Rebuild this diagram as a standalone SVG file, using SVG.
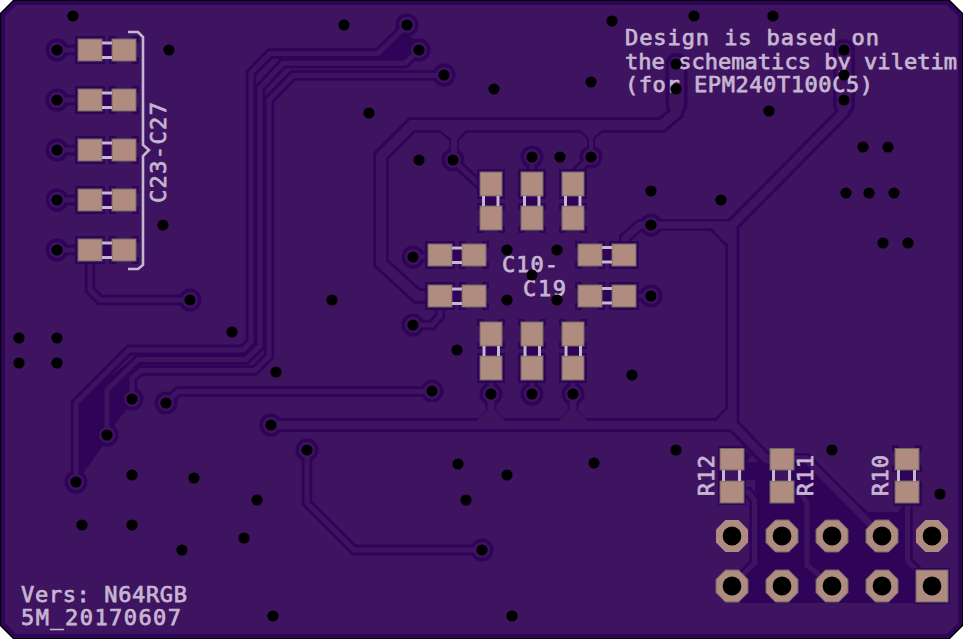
<svg xmlns="http://www.w3.org/2000/svg" width="963" height="639" viewBox="0 0 963 639">
<style>
.d{fill:#2f0358}.l{fill:#3e1360}
.td,.tl{fill:none;stroke-linejoin:miter;stroke-miterlimit:4}
.td{stroke:#2f0358}.tl{stroke:#3e1360}
.w5.td{stroke-width:10.5}.w5.tl{stroke-width:5}
.w7.td{stroke-width:12}.w7.tl{stroke-width:7}
.w9.td{stroke-width:14}.w9.tl{stroke-width:8.5}
.w10.td{stroke-width:15.5}.w10.tl{stroke-width:10}
.w15.td{stroke-width:22;stroke-linecap:round}.w15.tl{stroke-width:15;stroke-linecap:round}
.pad{fill:#b08c80;stroke:#6b6a64;stroke-width:1}
.pin{fill:#b08c80}.pg{stroke:#6b6a64;stroke-width:1}
.s{fill:#c6b6d2}
.b{fill:none;stroke:#c6b6d2;stroke-width:2.6}
text{font-family:"DejaVu Sans Mono","Liberation Mono",monospace;font-size:22px;fill:#c6b6d2;stroke:#c6b6d2;stroke-width:.75}
</style>
<defs>
<circle id="rd" r="11.5" class="d"/>
<circle id="rl" r="8" class="l"/>
<circle id="h" r="5.6" fill="#000"/>
<circle id="ph" r="9.4" fill="#000"/>
<polygon id="oct" points="-6.6,-16 6.6,-16 16,-6.6 16,6.6 6.6,16 -6.6,16 -16,6.6 -16,-6.6"/>
<polygon id="yd" class="d" points="-5.5,-25 5.5,-25 5.5,-14 14,-6 14,-4 -14,-4 -14,-6 -5.5,-14"/>
<polygon id="yl" class="l" points="-3.5,-25 3.5,-25 3.5,-15 13,-6 13,-2 -13,-2 -13,-6 -3.5,-15"/>
<g id="cap">
<rect x="-3" y="-3" width="30" height="28" class="d"/>
<rect x="24" y="2" width="10" height="18" class="d"/>
<rect x="31" y="-3" width="7" height="7" class="d"/><rect x="54" y="-3" width="7" height="7" class="d"/>
<rect x="31" y="18" width="7" height="7" class="d"/><rect x="54" y="18" width="7" height="7" class="d"/>
<rect x="0" y="0" width="24" height="22" class="pad"/>
<rect x="34" y="0" width="24" height="22" class="pad"/>
<rect x="24" y="2.5" width="10" height="3" class="s"/>
<rect x="24" y="17" width="10" height="3" class="s"/>
</g>
</defs>
<polygon points="13,0 950,0 963,13 963,626 950,639 13,639 0,626 0,13" fill="#000"/>
<polygon points="14,1 949,1 962,14 962,625 949,638 14,638 1,625 1,14" class="d"/>
<polygon points="16,5 947,5 958,16 958,623 947,634 16,634 5,623 5,16" class="l"/>
<g id="connectors">
<g id="copper-fill">
<polygon points="78,480 78,403 133,358 136,367 128,377 125,412 118,420 102,447 87,468" class="d"/>
<polygon points="378,56 405,33 419,42 412,62 378,62" class="d"/>
<polygon points="744,450 752,455 746,462 812,462 868,512 898,512 903,506 903,558 916,571 950,571 950,603 740,603 738,580 755,563 755,480 744,480" class="d"/>
</g>
<g id="rings-dark">
<use href="#rd" x="57" y="50"/><use href="#rd" x="57" y="100"/><use href="#rd" x="57" y="150"/><use href="#rd" x="57" y="200"/><use href="#rd" x="57" y="250"/>
<use href="#rd" x="190" y="300"/><use href="#rd" x="407" y="25"/><use href="#rd" x="419" y="50"/><use href="#rd" x="444" y="75"/>
<use href="#rd" x="453" y="160"/><use href="#rd" x="532" y="157"/><use href="#rd" x="591" y="157"/><use href="#rd" x="413" y="257"/>
<use href="#rd" x="651" y="225"/><use href="#rd" x="651" y="296"/><use href="#rd" x="132" y="399"/><use href="#rd" x="166" y="403"/>
<use href="#rd" x="107" y="435"/><use href="#rd" x="76" y="482"/><use href="#rd" x="271" y="425"/><use href="#rd" x="307" y="450"/>
<use href="#rd" x="413" y="325"/><use href="#rd" x="491" y="394"/><use href="#rd" x="532" y="394"/><use href="#rd" x="573" y="394"/>
<use href="#rd" x="432" y="391"/><use href="#rd" x="482" y="550"/>
</g>
<g id="trace-paths-dark">
<path class="td w5" d="M76 482V403L129 350H243L251 342V73L270 53.5H378L407 25"/>
<path class="td w5" d="M107 435V390L138 359.5H246L260 346V88L283 63.3H405L419 50"/>
<path class="td w5" d="M132 399V378L141 370.5H255L269 356V100L293 75.5H444"/>
<path class="td w5" d="M166 403L178 391.5H432"/>
<path class="td w5" d="M90 255V290L100 300H190"/>
<path class="td w5" d="M307 450V503L354 550H482"/>
<path class="td w5" d="M413 325H432L440 316V303"/>
<path class="td w5" d="M57 50H85M57 100H85M57 150H85M57 200H85M57 250H85M413 257H435M651 296H630M532 157V180M532 394V375M491 394V375M573 394V375"/>
<path class="td w5" d="M453 160L487 192M591 157L573 175"/>
<path class="td w10" d="M676 64V113L662 125H412L381 156V263L417 296H432"/>
<polygon class="d" points="437,130 470,130 459,141 459,152 449,152 449,141"/>
<polygon class="d" points="577,130 606,130 595,139 595,150 587,150 587,139"/>
<use href="#yd" x="491" y="425"/><use href="#yd" x="573" y="425"/>
<path class="td w15" d="M844 50V105"/>
<path class="td w15" d="M676.5 64V105"/>
<path class="td w9" d="M844 106V112L732.3 225V425M271 425H733L766 459H782"/>
<path class="td w7" d="M732 225H640L625 238V250"/>
<path class="td w7" d="M794 459H806L882 536"/>
<path class="td w5" d="M744 492H748L754.5 500V563L732 586"/>
<path class="td w5" d="M794 492H800L807 503V565L832 586"/>
<path class="td w5" d="M907.5 495V561L932 586"/>
<path d="M711 230L727 246M717 418L727 408" stroke="#2f0358" stroke-width="2.6" fill="none"/>
</g>
<g id="trace-paths-light">
<path class="tl w5" d="M76 482V403L129 350H243L251 342V73L270 53.5H378L407 25"/>
<path class="tl w5" d="M107 435V390L138 359.5H246L260 346V88L283 63.3H405L419 50"/>
<path class="tl w5" d="M132 399V378L141 370.5H255L269 356V100L293 75.5H444"/>
<path class="tl w5" d="M166 403L178 391.5H432"/>
<path class="tl w5" d="M90 255V290L100 300H190"/>
<path class="tl w5" d="M307 450V503L354 550H482"/>
<path class="tl w5" d="M413 325H432L440 316V303"/>
<path class="tl w5" d="M57 50H85M57 100H85M57 150H85M57 200H85M57 250H85M413 257H435M651 296H630M532 157V180M532 394V375M491 394V375M573 394V375"/>
<path class="tl w5" d="M453 160L487 192M591 157L573 175"/>
<path class="tl w10" d="M676 64V113L662 125H412L381 156V263L417 296H432"/>
<polygon class="l" points="438,128 468,128 457,139 457,155 451,155 451,139"/>
<polygon class="l" points="578,128 604,128 593,138 593,150 589,150 589,138"/>
<use href="#yl" x="491" y="425"/><use href="#yl" x="573" y="425"/>
<path class="tl w15" d="M844 50V105"/>
<path class="tl w15" d="M676.5 64V105"/>
<path class="tl w9" d="M844 106V112L732.3 225V425M271 425H733L766 459H782"/>
<path class="tl w7" d="M732 225H640L625 238V250"/>
<path class="tl w7" d="M794 459H806L882 536"/>
<path class="tl w5" d="M744 492H748L754.5 500V563L732 586"/>
<path class="tl w5" d="M794 492H800L807 503V565L832 586"/>
<path class="tl w5" d="M907.5 495V561L932 586"/>
<polygon class="l" points="712,228 728,228 728,244"/>
<polygon class="l" points="716,421 728,421 728,409"/>
</g>
<g id="rings-light">
<use href="#rl" x="57" y="50"/><use href="#rl" x="57" y="100"/><use href="#rl" x="57" y="150"/><use href="#rl" x="57" y="200"/><use href="#rl" x="57" y="250"/>
<use href="#rl" x="190" y="300"/><use href="#rl" x="407" y="25"/><use href="#rl" x="419" y="50"/><use href="#rl" x="444" y="75"/>
<use href="#rl" x="453" y="160"/><use href="#rl" x="532" y="157"/><use href="#rl" x="591" y="157"/><use href="#rl" x="413" y="257"/>
<use href="#rl" x="651" y="225"/><use href="#rl" x="651" y="296"/><use href="#rl" x="132" y="399"/><use href="#rl" x="166" y="403"/>
<use href="#rl" x="107" y="435"/><use href="#rl" x="76" y="482"/><use href="#rl" x="271" y="425"/><use href="#rl" x="307" y="450"/>
<use href="#rl" x="413" y="325"/><use href="#rl" x="491" y="394"/><use href="#rl" x="532" y="394"/><use href="#rl" x="573" y="394"/>
<use href="#rl" x="432" y="391"/><use href="#rl" x="482" y="550"/>
</g>
</g>
<g id="C23-C27">
<use href="#cap" x="78" y="39"/><use href="#cap" x="78" y="89"/><use href="#cap" x="78" y="139"/><use href="#cap" x="78" y="189"/><use href="#cap" x="78" y="239"/>
<polyline class="b" points="128,32 138,32 143,37 143,145 149,150 143,156 143,265 138,269 128,269"/>
<text transform="translate(166 203) rotate(-90)" textLength="101">C23-C27</text>
</g>
<g id="C10-C19">
<use href="#cap" transform="translate(502 172) rotate(90)"/><use href="#cap" transform="translate(543 172) rotate(90)"/><use href="#cap" transform="translate(584 172) rotate(90)"/>
<use href="#cap" transform="translate(480 380) rotate(-90)"/><use href="#cap" transform="translate(521 380) rotate(-90)"/><use href="#cap" transform="translate(562 380) rotate(-90)"/>
<use href="#cap" x="428" y="244"/><use href="#cap" x="428" y="285"/>
<use href="#cap" transform="translate(636 266) rotate(180)"/><use href="#cap" transform="translate(636 307) rotate(180)"/>
<text x="502" y="272" textLength="56">C10-</text>
<text x="523" y="296" textLength="43">C19</text>
</g>
<g id="R12">
<rect x="718" y="446" width="28" height="59" class="d"/>
<rect x="722" y="470" width="20" height="11" class="l"/>
<rect x="720" y="448.5" width="24" height="21.5" class="pad"/><rect x="720" y="481" width="24" height="22" class="pad"/>
<rect x="722" y="470" width="3" height="11" class="s"/><rect x="738" y="470" width="3" height="11" class="s"/>
<text transform="translate(714 496) rotate(-90)" textLength="41">R12</text>
</g>
<g id="R11">
<rect x="772" y="470" width="20" height="11" class="l"/>
<rect x="770" y="448.5" width="24" height="21.5" class="pad"/><rect x="770" y="481" width="24" height="22" class="pad"/>
<rect x="772" y="470" width="3" height="11" class="s"/><rect x="788" y="470" width="3" height="11" class="s"/>
<text transform="translate(813 496) rotate(-90)" textLength="41">R11</text>
</g>
<g id="R10">
<rect x="892" y="445" width="7" height="7" class="d"/><rect x="915" y="445" width="7" height="7" class="d"/><rect x="892" y="465" width="7" height="7" class="d"/><rect x="915" y="465" width="7" height="7" class="d"/>
<rect x="893" y="481" width="29" height="25" class="d"/><rect x="897" y="470" width="20" height="11" class="d"/>
<rect x="895" y="448.5" width="24" height="21.5" class="pad"/><rect x="895" y="481" width="24" height="22" class="pad"/>
<rect x="897" y="470" width="3" height="11" class="s"/><rect x="913" y="470" width="3" height="11" class="s"/>
<text transform="translate(888 496) rotate(-90)" textLength="41">R10</text>
</g>
<g id="header">
<rect x="913" y="568" width="37" height="36" class="d"/>
<use href="#oct" x="732" y="536" class="pin"/><use href="#oct" x="782" y="536" class="pin pg"/><use href="#oct" x="832" y="536" class="pin pg"/><use href="#oct" x="882" y="536" class="pin pg"/><use href="#oct" x="932" y="536" class="pin"/>
<use href="#oct" x="732" y="586" class="pin pg"/><use href="#oct" x="782" y="586" class="pin pg"/><use href="#oct" x="832" y="586" class="pin pg"/><use href="#oct" x="882" y="586" class="pin pg"/>
<rect x="916" y="570" width="32" height="32" class="pin pg"/>
<use href="#ph" x="732" y="536"/><use href="#ph" x="782" y="536"/><use href="#ph" x="832" y="536"/><use href="#ph" x="882" y="536"/><use href="#ph" x="932" y="536"/>
<use href="#ph" x="732" y="586"/><use href="#ph" x="782" y="586"/><use href="#ph" x="832" y="586"/><use href="#ph" x="882" y="586"/><use href="#ph" x="932" y="586"/>
</g>
<g id="notes">
<text x="625" y="45" textLength="254">Design is based on</text>
<text x="625" y="68.5" textLength="332">the schematics by viletim</text>
<text x="625" y="92" textLength="248">(for EPM240T100C5)</text>
<text x="21" y="601.5" textLength="166">Vers: N64RGB</text>
<text x="21" y="625" textLength="160">5M_20170607</text>
</g>
<g id="holes">
<use href="#h" x="73" y="16"/><use href="#h" x="169" y="50"/><use href="#h" x="57" y="50"/><use href="#h" x="57" y="100"/><use href="#h" x="57" y="150"/><use href="#h" x="57" y="200"/><use href="#h" x="57" y="250"/><use href="#h" x="163" y="225"/><use href="#h" x="190" y="300"/>
<use href="#h" x="344" y="25"/><use href="#h" x="407" y="25"/><use href="#h" x="419" y="50"/><use href="#h" x="444" y="75"/><use href="#h" x="494" y="89"/><use href="#h" x="369" y="113"/><use href="#h" x="419" y="160"/><use href="#h" x="453" y="160"/><use href="#h" x="532" y="157"/><use href="#h" x="560" y="157"/><use href="#h" x="591" y="157"/><use href="#h" x="612" y="21"/><use href="#h" x="591" y="82"/><use href="#h" x="507" y="250"/><use href="#h" x="557" y="250"/><use href="#h" x="413" y="257"/><use href="#h" x="332" y="300"/><use href="#h" x="507" y="300"/><use href="#h" x="557" y="300"/><use href="#h" x="532" y="275"/>
<use href="#h" x="694" y="16"/><use href="#h" x="773" y="16"/><use href="#h" x="844" y="50"/><use href="#h" x="844" y="75"/><use href="#h" x="844" y="100"/><use href="#h" x="676" y="64"/><use href="#h" x="676" y="89"/><use href="#h" x="769" y="111"/><use href="#h" x="651" y="191"/><use href="#h" x="721" y="200"/><use href="#h" x="651" y="225"/><use href="#h" x="651" y="296"/><use href="#h" x="863" y="147"/><use href="#h" x="888" y="147"/><use href="#h" x="846" y="193"/><use href="#h" x="869" y="193"/><use href="#h" x="894" y="193"/><use href="#h" x="883" y="243"/><use href="#h" x="908" y="243"/>
<use href="#h" x="19" y="338"/><use href="#h" x="57" y="338"/><use href="#h" x="19" y="363"/><use href="#h" x="57" y="363"/><use href="#h" x="232" y="332"/><use href="#h" x="276" y="372"/><use href="#h" x="132" y="399"/><use href="#h" x="166" y="403"/><use href="#h" x="107" y="435"/><use href="#h" x="76" y="482"/><use href="#h" x="132" y="475"/><use href="#h" x="194" y="478"/><use href="#h" x="257" y="500"/><use href="#h" x="82" y="525"/><use href="#h" x="132" y="525"/><use href="#h" x="182" y="550"/><use href="#h" x="244" y="538"/><use href="#h" x="271" y="425"/><use href="#h" x="307" y="450"/><use href="#h" x="273" y="616"/>
<use href="#h" x="413" y="325"/><use href="#h" x="457" y="350"/><use href="#h" x="632" y="375"/><use href="#h" x="491" y="394"/><use href="#h" x="532" y="394"/><use href="#h" x="573" y="394"/><use href="#h" x="432" y="391"/><use href="#h" x="458" y="464"/><use href="#h" x="507" y="475"/><use href="#h" x="594" y="463"/><use href="#h" x="466" y="500"/><use href="#h" x="482" y="550"/><use href="#h" x="512" y="616"/>
<use href="#h" x="676" y="450"/><use href="#h" x="832" y="450"/><use href="#h" x="940" y="494"/>
</g>
</svg>
